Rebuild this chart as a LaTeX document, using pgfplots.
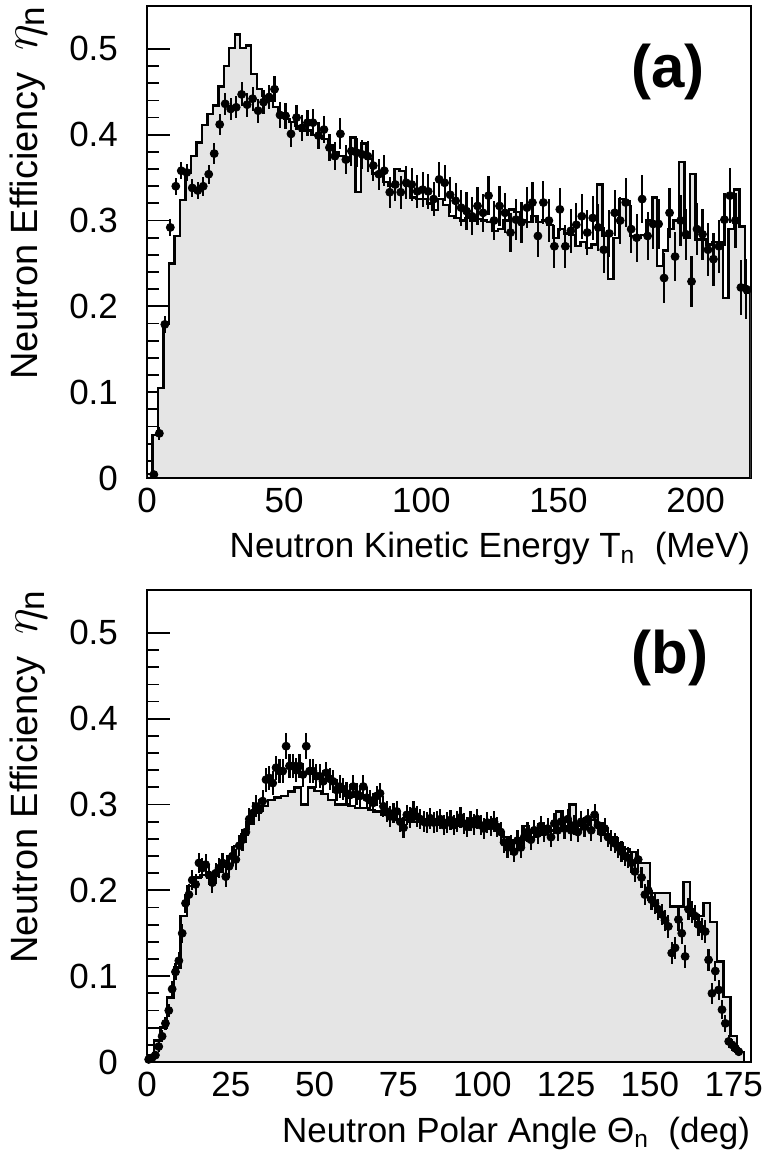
\documentclass[border=0pt]{standalone}
\usepackage{fontspec}
\setmainfont{Liberation Sans}
\usepackage{pgfplots}
\pgfplotsset{compat=1.18}
\usepackage{pgfplotstable}

% ---------- panel (a): simulation histogram, 2 MeV bins (left edges) ----------
\pgfplotstableread{
x y
0 0.005
2 0.050
4 0.105
6 0.180
8 0.250
10 0.282
12 0.324
14 0.356
16 0.375
18 0.391
20 0.411
22 0.424
24 0.434
26 0.456
28 0.480
30 0.501
32 0.517
34 0.501
36 0.504
38 0.471
40 0.453
42 0.445
44 0.440
46 0.432
48 0.425
50 0.418
52 0.415
54 0.410
56 0.405
58 0.405
60 0.400
62 0.398
64 0.395
66 0.388
68 0.380
70 0.375
72 0.370
74 0.397
76 0.333
78 0.390
80 0.372
82 0.355
84 0.352
86 0.345
88 0.340
90 0.360
92 0.358
94 0.340
96 0.327
98 0.325
100 0.325
102 0.320
104 0.312
106 0.325
108 0.318
110 0.305
112 0.303
114 0.300
116 0.303
118 0.300
120 0.302
122 0.300
124 0.298
126 0.288
128 0.290
130 0.300
132 0.313
134 0.310
136 0.300
138 0.298
140 0.305
142 0.298
144 0.300
146 0.295
148 0.280
150 0.290
152 0.285
154 0.283
156 0.270
158 0.275
160 0.268
162 0.272
164 0.342
166 0.282
168 0.232
170 0.280
172 0.325
174 0.322
176 0.282
178 0.280
180 0.283
182 0.300
184 0.327
186 0.247
188 0.265
190 0.290
192 0.300
194 0.368
196 0.280
198 0.354
200 0.278
202 0.278
204 0.272
206 0.275
208 0.275
210 0.210
212 0.290
214 0.336
216 0.293
218 0.216
220 0.216
}\mcA

% ---------- panel (a): measured efficiency ----------
\pgfplotstableread{
x y e
2.5 0.004 0.004
4.5 0.052 0.008
6.5 0.179 0.010
8.5 0.292 0.010
10.5 0.340 0.010
12.5 0.358 0.010
14.5 0.356 0.010
16.5 0.338 0.010
18.5 0.335 0.010
20.5 0.340 0.011
22.5 0.354 0.011
24.5 0.378 0.012
26.5 0.412 0.012
28.5 0.436 0.013
30.5 0.430 0.013
32.5 0.432 0.013
34.5 0.447 0.014
36.5 0.435 0.014
38.5 0.442 0.014
40.5 0.428 0.014
42.5 0.438 0.014
44.5 0.444 0.014
46.5 0.453 0.015
48.5 0.423 0.015
50.5 0.422 0.015
52.5 0.401 0.015
54.5 0.420 0.015
56.5 0.408 0.015
58.5 0.414 0.015
60.5 0.414 0.016
62.5 0.399 0.016
64.5 0.406 0.016
66.5 0.385 0.016
68.5 0.375 0.016
70.5 0.401 0.018
72.5 0.371 0.017
74.5 0.381 0.017
76.5 0.379 0.017
78.5 0.377 0.017
80.5 0.375 0.018
82.5 0.364 0.018
84.5 0.354 0.018
86.5 0.358 0.018
88.5 0.333 0.018
90.5 0.342 0.019
92.5 0.333 0.019
94.5 0.344 0.019
96.5 0.342 0.019
98.5 0.334 0.019
100.5 0.336 0.020
102.5 0.334 0.020
104.5 0.325 0.020
106.5 0.348 0.020
108.5 0.344 0.021
110.5 0.330 0.021
112.5 0.323 0.021
114.5 0.315 0.021
116.5 0.311 0.022
118.5 0.305 0.022
120.5 0.317 0.022
122.5 0.309 0.022
124.5 0.329 0.023
126.5 0.300 0.023
128.5 0.317 0.023
130.5 0.309 0.023
132.5 0.286 0.023
134.5 0.301 0.024
136.5 0.298 0.024
138.5 0.315 0.024
140.5 0.321 0.024
142.5 0.282 0.024
144.5 0.321 0.025
146.5 0.300 0.025
148.5 0.270 0.025
150.5 0.313 0.025
152.5 0.270 0.025
154.5 0.288 0.026
156.5 0.295 0.026
158.5 0.305 0.026
160.5 0.286 0.026
162.5 0.303 0.026
164.5 0.292 0.027
166.5 0.266 0.027
168.5 0.285 0.027
170.5 0.309 0.027
172.5 0.300 0.027
174.5 0.321 0.028
176.5 0.290 0.028
178.5 0.280 0.028
180.5 0.325 0.028
182.5 0.282 0.028
184.5 0.296 0.029
186.5 0.296 0.029
188.5 0.233 0.029
190.5 0.309 0.029
192.5 0.258 0.029
194.5 0.300 0.030
196.5 0.284 0.030
198.5 0.229 0.030
200.5 0.290 0.030
202.5 0.284 0.030
204.5 0.266 0.031
206.5 0.255 0.031
208.5 0.270 0.031
210.5 0.301 0.031
212.5 0.329 0.032
214.5 0.300 0.032
216.5 0.222 0.032
218.5 0.220 0.035
}\dataA

% ---------- panel (b): simulation histogram, 2 deg bins (left edges) ----------
\pgfplotstableread{
x y
0 0.008
2 0.025
4 0.040
6 0.075
8 0.110
10 0.170
12 0.205
14 0.215
16 0.218
18 0.215
20 0.222
22 0.228
24 0.240
26 0.252
28 0.265
30 0.278
32 0.290
34 0.298
36 0.305
38 0.308
40 0.310
42 0.315
44 0.320
46 0.300
48 0.320
50 0.316
52 0.312
54 0.305
56 0.300
58 0.300
60 0.298
62 0.296
64 0.296
66 0.294
68 0.292
70 0.288
72 0.285
74 0.282
76 0.282
78 0.280
80 0.280
82 0.278
84 0.278
86 0.276
88 0.278
90 0.276
92 0.275
94 0.275
96 0.276
98 0.274
100 0.272
102 0.275
104 0.270
106 0.262
108 0.258
110 0.255
112 0.275
114 0.262
116 0.265
118 0.268
120 0.270
122 0.292
124 0.272
126 0.300
128 0.275
130 0.276
132 0.282
134 0.278
136 0.265
138 0.262
140 0.255
142 0.248
144 0.245
146 0.232
148 0.232
150 0.197
152 0.197
154 0.197
156 0.181
158 0.181
160 0.210
162 0.170
164 0.170
166 0.185
168 0.163
170 0.117
172 0.076
174 0.030
176 0.012
178 0.000
180 0.000
}\mcB

% ---------- panel (b): measured efficiency ----------
\pgfplotstableread{
x y e
0.5 0.003 0.003
1.5 0.005 0.004
2.5 0.008 0.005
3.5 0.018 0.006
4.5 0.030 0.007
5.5 0.045 0.008
6.5 0.060 0.008
7.5 0.085 0.009
8.5 0.105 0.010
9.5 0.118 0.010
10.5 0.150 0.011
11.5 0.185 0.011
12.5 0.195 0.012
13.5 0.212 0.012
14.5 0.207 0.012
15.5 0.232 0.012
16.5 0.226 0.012
17.5 0.230 0.012
18.5 0.218 0.012
19.5 0.209 0.012
20.5 0.220 0.012
21.5 0.226 0.012
22.5 0.232 0.012
23.5 0.216 0.012
24.5 0.228 0.012
25.5 0.240 0.012
26.5 0.236 0.012
27.5 0.252 0.012
28.5 0.259 0.013
29.5 0.268 0.013
30.5 0.283 0.013
31.5 0.290 0.013
32.5 0.298 0.013
33.5 0.294 0.013
34.5 0.304 0.013
35.5 0.329 0.014
36.5 0.331 0.014
37.5 0.325 0.014
38.5 0.343 0.014
39.5 0.339 0.014
40.5 0.339 0.014
41.5 0.368 0.015
42.5 0.345 0.014
43.5 0.345 0.014
44.5 0.340 0.014
45.5 0.345 0.014
46.5 0.335 0.014
47.5 0.368 0.015
48.5 0.339 0.014
49.5 0.339 0.014
50.5 0.333 0.014
51.5 0.333 0.014
52.5 0.327 0.013
53.5 0.337 0.013
54.5 0.330 0.013
55.5 0.327 0.013
56.5 0.317 0.013
57.5 0.321 0.013
58.5 0.318 0.013
59.5 0.313 0.013
60.5 0.311 0.013
61.5 0.321 0.013
62.5 0.312 0.013
63.5 0.310 0.013
64.5 0.321 0.013
65.5 0.308 0.012
66.5 0.305 0.012
67.5 0.302 0.012
68.5 0.310 0.012
69.5 0.313 0.012
70.5 0.298 0.012
71.5 0.292 0.012
72.5 0.286 0.012
73.5 0.290 0.012
74.5 0.292 0.012
75.5 0.280 0.012
76.5 0.273 0.012
77.5 0.288 0.012
78.5 0.285 0.012
79.5 0.292 0.012
80.5 0.286 0.012
81.5 0.283 0.012
82.5 0.280 0.012
83.5 0.279 0.012
84.5 0.284 0.012
85.5 0.279 0.012
86.5 0.280 0.012
87.5 0.283 0.012
88.5 0.276 0.012
89.5 0.279 0.012
90.5 0.282 0.012
91.5 0.276 0.012
92.5 0.280 0.012
93.5 0.285 0.012
94.5 0.278 0.012
95.5 0.274 0.012
96.5 0.281 0.012
97.5 0.277 0.012
98.5 0.283 0.012
99.5 0.276 0.012
100.5 0.272 0.012
101.5 0.279 0.012
102.5 0.275 0.012
103.5 0.280 0.012
104.5 0.274 0.012
105.5 0.268 0.012
106.5 0.256 0.012
107.5 0.250 0.012
108.5 0.253 0.012
109.5 0.245 0.012
110.5 0.258 0.012
111.5 0.250 0.012
112.5 0.262 0.012
113.5 0.268 0.012
114.5 0.259 0.012
115.5 0.270 0.012
116.5 0.266 0.012
117.5 0.275 0.012
118.5 0.268 0.012
119.5 0.272 0.012
120.5 0.262 0.012
121.5 0.278 0.012
122.5 0.270 0.012
123.5 0.280 0.012
124.5 0.272 0.012
125.5 0.283 0.012
126.5 0.270 0.012
127.5 0.276 0.012
128.5 0.268 0.012
129.5 0.280 0.012
130.5 0.274 0.012
131.5 0.283 0.012
132.5 0.270 0.012
133.5 0.288 0.013
134.5 0.276 0.012
135.5 0.268 0.012
136.5 0.272 0.012
137.5 0.262 0.012
138.5 0.258 0.012
139.5 0.255 0.012
140.5 0.250 0.012
141.5 0.245 0.012
142.5 0.240 0.012
143.5 0.238 0.012
144.5 0.232 0.012
145.5 0.222 0.012
146.5 0.236 0.012
147.5 0.215 0.012
148.5 0.195 0.012
149.5 0.200 0.012
150.5 0.189 0.012
151.5 0.185 0.012
152.5 0.178 0.012
153.5 0.172 0.012
154.5 0.165 0.012
155.5 0.158 0.013
156.5 0.127 0.013
157.5 0.133 0.013
158.5 0.166 0.013
159.5 0.150 0.013
160.5 0.123 0.013
161.5 0.178 0.013
162.5 0.175 0.013
163.5 0.170 0.013
164.5 0.160 0.013
165.5 0.155 0.013
166.5 0.152 0.013
167.5 0.119 0.013
168.5 0.080 0.012
169.5 0.106 0.012
170.5 0.084 0.012
171.5 0.061 0.011
172.5 0.045 0.010
173.5 0.024 0.008
174.5 0.020 0.007
175.5 0.016 0.006
176.5 0.012 0.005
}\dataB

\newcommand{\etan}{{\fontsize{25}{28}\selectfont$\eta_{\mathrm{n}}$}}

\pgfplotsset{
  panel/.style={
    scale only axis,
    width=301.75pt, height=236pt,
    ymin=0, ymax=0.55,
    ytick={0,0.1,0.2,0.3,0.4,0.5},
    yticklabels={0,0.1,0.2,0.3,0.4,0.5},
    minor y tick num=4,
    minor x tick num=4,
    tick pos=left,
    tick align=inside,
    major tick length=11.5pt,
    minor tick length=6pt,
    tick style={line width=0.9pt, black},
    axis line style={line width=1pt},
    ticklabel style={font=\fontsize{17.5}{20}\selectfont},
    yticklabel style={xshift=-11pt},
    xticklabel style={yshift=-1.5pt},
    /pgf/number format/assume math mode=true,
    xlabel style={at={(axis description cs:1,0)}, anchor=base east,
      yshift=-40pt, inner sep=0pt, font=\fontsize{17.5}{20}\selectfont},
    ylabel style={at={(axis description cs:-0.182,1)}, anchor=base east,
      inner sep=0pt, font=\fontsize{19}{22}\selectfont},
  },
  histo/.style={const plot, fill=black!10, draw=black, line width=1.2pt},
  meas/.style={only marks, mark=*, mark size=2pt, black,
    error bars/.cd, y dir=both, y explicit,
    error bar style={line width=1.1pt, black}, error mark=none},
}

\begin{document}
\begin{tikzpicture}
\path[use as bounding box] (-73.5pt,-341pt) rectangle (311pt,239pt);

\begin{axis}[panel, at={(0pt,0pt)}, anchor=south west,
  xmin=0, xmax=220,
  xtick={0,50,100,150,200},
  xticklabels={0,50,100,150,200},
  xlabel={Neutron Kinetic Energy T\textsubscript{n}\ \ (MeV)},
  ylabel={Neutron Efficiency\ \ \etan}]
  \addplot[histo] table[x=x,y=y] {\mcA} \closedcycle;
  \addplot[meas] table[x=x,y=y,y error=e] {\dataA};
  \node[font=\fontsize{30}{36}\selectfont\bfseries] at (axis cs:190,0.473) {(a)};
\end{axis}

\begin{axis}[panel, at={(0pt,-292pt)}, anchor=south west,
  xmin=0, xmax=180,
  xtick={0,25,50,75,100,125,150,175},
  xticklabels={0,25,50,75,100,125,150,175},
  xlabel={Neutron Polar Angle Θ\textsubscript{n}\ \ (deg)},
  ylabel={Neutron Efficiency\ \ \etan}]
  \addplot[histo] table[x=x,y=y] {\mcB} \closedcycle;
  \addplot[meas] table[x=x,y=y,y error=e] {\dataB};
  \node[font=\fontsize{30}{36}\selectfont\bfseries] at (axis cs:156,0.471) {(b)};
\end{axis}
\end{tikzpicture}
\end{document}
